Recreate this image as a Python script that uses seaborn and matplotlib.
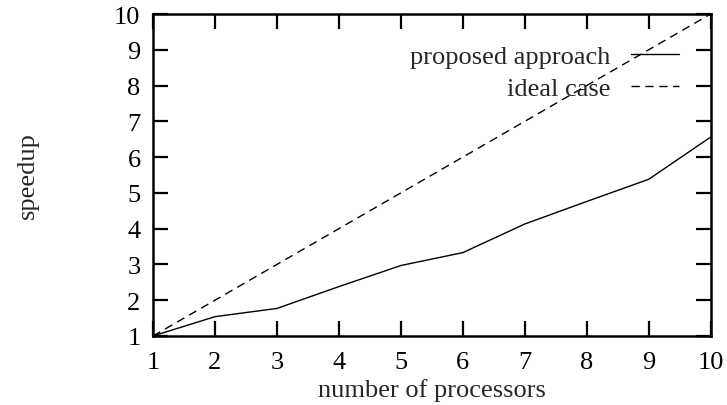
import pandas as pd
import matplotlib
matplotlib.use("Agg")
import matplotlib.pyplot as plt
import seaborn as sns

# data
processors = [1, 2, 3, 4, 5, 6, 7, 8, 9, 10]
proposed = [1.0, 1.54, 1.77, 2.38, 2.97, 3.33, 4.13, 4.76, 5.38, 6.56]
ideal = [1, 2, 3, 4, 5, 6, 7, 8, 9, 10]
series_names = ["proposed approach", "ideal case"]

df = pd.DataFrame({
    "processors": processors * 2,
    "speedup": proposed + ideal,
    "series": [series_names[0]] * len(processors) + [series_names[1]] * len(processors),
})

sns.set_style("ticks")
plt.rcParams["font.family"] = ["Liberation Serif", "DejaVu Serif"]
FS = 19

fig = plt.figure(figsize=(7.27, 4.06), dpi=100)
ax = fig.add_axes([0.2105, 0.170, 0.767, 0.793])

sns.lineplot(data=df, x="processors", y="speedup", hue="series", style="series",
             palette=["black", "black"], dashes=[(None, None), (6, 4)],
             linewidth=1.0, ax=ax)

ax.set_xlim(1, 10)
ax.set_ylim(1, 10)
ax.set_xticks(range(1, 11))
ax.set_yticks(range(1, 11))
ax.tick_params(direction="in", length=11, width=1.6, top=True, right=True,
               labelsize=FS, colors="black")
ax.tick_params(axis="x", pad=11)
ax.tick_params(axis="y", pad=9)
for s in ax.spines.values():
    s.set_linewidth(1.8)
    s.set_color("black")

ax.set_xlabel("number of processors", fontsize=FS)
ax.xaxis.set_label_coords(0.5, -0.13)
ax.set_ylabel("speedup", fontsize=FS)
ax.yaxis.set_label_coords(-0.205, 0.5)

handles, labels = ax.get_legend_handles_labels()
ax.legend(handles, labels, loc="upper right", bbox_to_anchor=(0.944, 0.905),
          frameon=False, markerfirst=False, handlelength=1.85, fontsize=FS,
          labelspacing=0.33, handletextpad=0.75, borderaxespad=0, borderpad=0)

fig.savefig("out.png", dpi=100)
